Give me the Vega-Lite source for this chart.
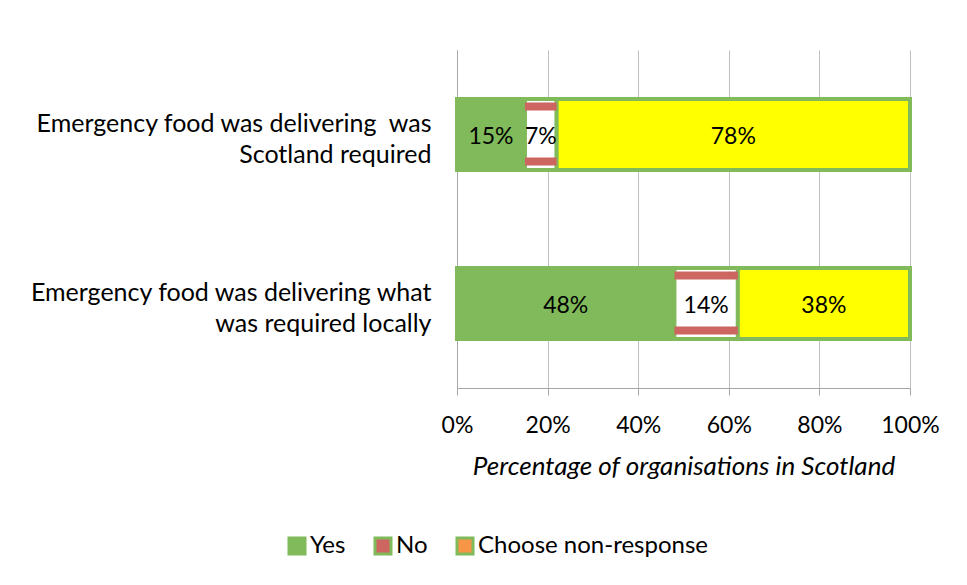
{
  "$schema": "https://vega.github.io/schema/vega-lite/v6.json",
  "autosize": {"type": "none"},
  "width": 453,
  "height": 338,
  "padding": {"left": 457, "top": 50, "right": 57, "bottom": 197},
  "background": "white",
  "config": {
    "font": "Lato",
    "view": {"stroke": null}
  },
  "data": {
    "values": [
      {"q": "Emergency food was delivering  was Scotland required", "answer": "Yes", "value": 0.15},
      {"q": "Emergency food was delivering  was Scotland required", "answer": "No", "value": 0.07},
      {"q": "Emergency food was delivering  was Scotland required", "answer": "Choose non-response", "value": 0.78},
      {"q": "Emergency food was delivering what was required locally", "answer": "Yes", "value": 0.48},
      {"q": "Emergency food was delivering what was required locally", "answer": "No", "value": 0.14},
      {"q": "Emergency food was delivering what was required locally", "answer": "Choose non-response", "value": 0.38}
    ]
  },
  "transform": [
    {"stack": "value", "groupby": ["q"], "sort": [{"field": "answer", "order": "descending"}], "as": ["x0", "x1"]},
    {"calculate": "(datum.x0 + datum.x1) / 2", "as": "mid"}
  ],
  "encoding": {
    "y": {
      "field": "q",
      "type": "nominal",
      "sort": null,
      "title": null,
      "scale": {"paddingInner": 0.58, "paddingOuter": 0.29},
      "axis": {
        "ticks": false,
        "domainColor": "#A6A6A6",
        "labelFontSize": 25,
        "labelColor": "#000000",
        "labelPadding": 26,
        "labelLimit": 600,
        "labelLineHeight": 31,
        "labelOffset": -11,
        "labelExpr": "datum.value == 'Emergency food was delivering  was Scotland required' ? ['Emergency food was delivering \u00a0was', 'Scotland required'] : ['Emergency food was delivering what', 'was required locally']"
      }
    }
  },
  "layer": [
    {
      "mark": {"type": "bar", "stroke": "#80BA5A", "strokeWidth": 4},
      "encoding": {
        "x": {
          "field": "x0",
          "type": "quantitative",
          "scale": {"domain": [0, 1]},
          "title": "Percentage of organisations in Scotland",
          "axis": {
            "values": [0, 0.2, 0.4, 0.6, 0.8, 1],
            "format": ".0%",
            "grid": true,
            "gridColor": "#BFBFBF",
            "domainColor": "#A6A6A6",
            "tickColor": "#A6A6A6",
            "tickSize": 7,
            "labelFlush": false,
            "labelFontSize": 23,
            "labelColor": "#000000",
            "labelPadding": 19,
            "titleFontSize": 26,
            "titleFontStyle": "italic",
            "titleFontWeight": "normal",
            "titleColor": "#000000",
            "titlePadding": 16
          }
        },
        "x2": {"field": "x1"},
        "fill": {
          "field": "answer",
          "type": "nominal",
          "scale": {"domain": ["Yes", "No", "Choose non-response"], "range": ["#80BA5A", "#CD6660", "#F79646"]},
          "condition": [
            {"test": "datum.answer === 'No'", "value": "#FFFFFF"},
            {"test": "datum.answer === 'Choose non-response'", "value": "#FFFF00"}
          ],
          "legend": {
            "title": null,
            "orient": "none",
            "legendX": -172,
            "legendY": 484,
            "direction": "horizontal",
            "symbolType": "square",
            "symbolSize": 256,
            "symbolStrokeColor": "#80BA5A",
            "symbolStrokeWidth": 3,
            "labelFontSize": 24,
            "labelColor": "#000000",
            "labelOffset": 1,
            "labelLimit": 400,
            "columnPadding": 23
          }
        }
      }
    },
    {
      "transform": [{"filter": "datum.answer === 'No'"}],
      "mark": {"type": "bar", "size": 8, "yOffset": -28, "fill": "#CD6660"},
      "encoding": {
        "x": {"field": "x0", "type": "quantitative"},
        "x2": {"field": "x1"}
      }
    },
    {
      "transform": [{"filter": "datum.answer === 'No'"}],
      "mark": {"type": "bar", "size": 8, "yOffset": 27, "fill": "#CD6660"},
      "encoding": {
        "x": {"field": "x0", "type": "quantitative"},
        "x2": {"field": "x1"}
      }
    },
    {
      "mark": {"type": "text", "fontSize": 23, "color": "#000000", "align": "center", "baseline": "middle", "dy": 2},
      "encoding": {
        "x": {"field": "mid", "type": "quantitative"},
        "text": {"field": "value", "type": "quantitative", "format": ".0%"}
      }
    }
  ]
}
